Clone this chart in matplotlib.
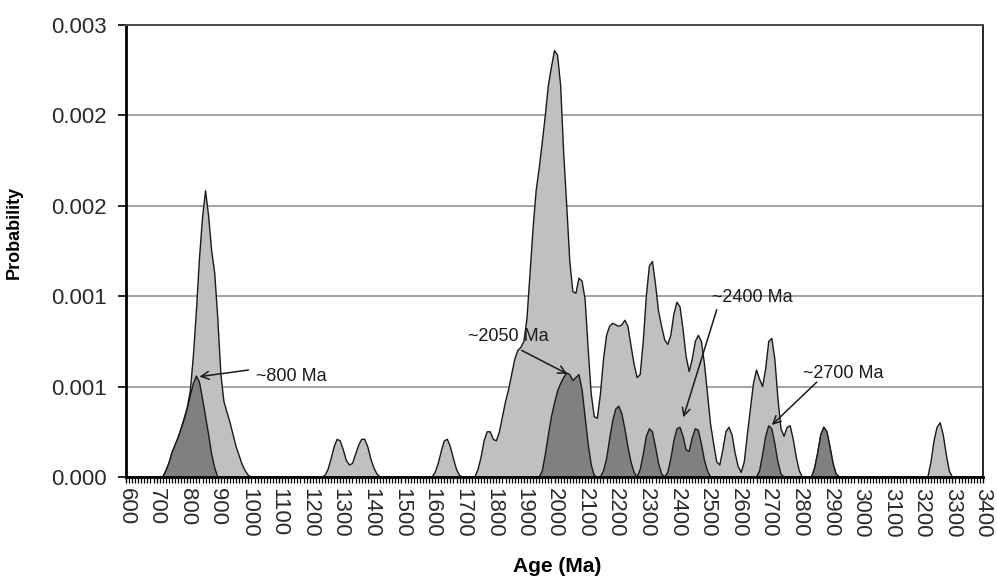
import matplotlib
matplotlib.use("Agg")
import matplotlib.pyplot as plt
from matplotlib.ticker import MultipleLocator, FixedLocator, FormatStrFormatter
import numpy as np

# ---- data (age in Ma, probability) : one row per 100 Ma, 10 Ma steps ----
ages = list(range(600, 3410, 10))

total_prob = [
    # 600-690
    0, 0, 0, 0, 0, 0, 0, 0, 0, 0,
    # 700-790
    0, 0, 0, 0.00004, 0.00009, 0.00016, 0.00021, 0.00026, 0.00032, 0.00039,
    # 800-890
    0.00046, 0.00057, 0.00080, 0.00110, 0.00145, 0.00172, 0.00190, 0.00173, 0.00150, 0.00135,
    # 900-990
    0.00105, 0.00068, 0.00050, 0.00043, 0.00036, 0.00028, 0.00020, 0.00014, 0.00008, 0.00004,
    # 1000-1090
    0.00001, 0, 0, 0, 0, 0, 0, 0, 0, 0,
    # 1100-1190
    0, 0, 0, 0, 0, 0, 0, 0, 0, 0,
    # 1200-1290
    0, 0, 0, 0, 0, 0.00001, 0.00005, 0.00012, 0.00020, 0.00025,
    # 1300-1390
    0.00024, 0.00018, 0.00011, 0.00008, 0.00009, 0.00015, 0.00021, 0.00025, 0.00025, 0.00020,
    # 1400-1490
    0.00012, 0.00006, 0.00002, 0, 0, 0, 0, 0, 0, 0,
    # 1500-1590
    0, 0, 0, 0, 0, 0, 0, 0, 0, 0,
    # 1600-1690
    0, 0.00003, 0.00009, 0.00017, 0.00024, 0.00025, 0.00020, 0.00012, 0.00005, 0.00001,
    # 1700-1790
    0, 0, 0, 0, 0, 0.00005, 0.00013, 0.00024, 0.00030, 0.00030,
    # 1800-1890
    0.00025, 0.00024, 0.00030, 0.00040, 0.00050, 0.00058, 0.00068, 0.00078, 0.00084, 0.00086,
    # 1900-1990
    0.00090, 0.00105, 0.00135, 0.00165, 0.00190, 0.00205, 0.00222, 0.00240, 0.00260, 0.00272,
    # 2000-2090
    0.00283, 0.00280, 0.00260, 0.00215, 0.00180, 0.00143, 0.00123, 0.00122, 0.00132, 0.00130,
    # 2100-2190
    0.00118, 0.00085, 0.00055, 0.00040, 0.00039, 0.00055, 0.00078, 0.00094, 0.00100, 0.00102,
    # 2200-2290
    0.00101, 0.00100, 0.00101, 0.00104, 0.00100, 0.00087, 0.00075, 0.00066, 0.00068, 0.00090,
    # 2300-2390
    0.00120, 0.00140, 0.00143, 0.00128, 0.00110, 0.00100, 0.00091, 0.00088, 0.00094, 0.00108,
    # 2400-2490
    0.00116, 0.00113, 0.00098, 0.00080, 0.00070, 0.00078, 0.00090, 0.00094, 0.00090, 0.00075,
    # 2500-2590
    0.00055, 0.00035, 0.00022, 0.00010, 0.00008, 0.00018, 0.00030, 0.00033, 0.00028, 0.00016,
    # 2600-2690
    0.00007, 0.00003, 0.00010, 0.00028, 0.00045, 0.00062, 0.00071, 0.00065, 0.00060, 0.00072,
    # 2700-2790
    0.00090, 0.00092, 0.00078, 0.00052, 0.00032, 0.00027, 0.00033, 0.00034, 0.00025, 0.00013,
    # 2800-2890
    0.00004, 0, 0, 0, 0, 0.00006, 0.00016, 0.00028, 0.00033, 0.00030,
    # 2900-2990
    0.00020, 0.00009, 0.00002, 0, 0, 0, 0, 0, 0, 0,
    # 3000-3090
    0, 0, 0, 0, 0, 0, 0, 0, 0, 0,
    # 3100-3190
    0, 0, 0, 0, 0, 0, 0, 0, 0, 0,
    # 3200-3290
    0, 0, 0, 0.00010, 0.00024, 0.00033, 0.00036, 0.00028, 0.00015, 0.00004,
    # 3300-3400
    0, 0, 0, 0, 0, 0, 0, 0, 0, 0, 0,
]

subset_prob = [
    # 600-690
    0, 0, 0, 0, 0, 0, 0, 0, 0, 0,
    # 700-790
    0, 0, 0, 0.00004, 0.00009, 0.00016, 0.00021, 0.00026, 0.00032, 0.00038,
    # 800-890
    0.00045, 0.00054, 0.00062, 0.00067, 0.00063, 0.00052, 0.00040, 0.00028, 0.00015, 0.00006,
    # 900-990
    0, 0, 0, 0, 0, 0, 0, 0, 0, 0,
    # 1000-1090
    0, 0, 0, 0, 0, 0, 0, 0, 0, 0,
    # 1100-1190
    0, 0, 0, 0, 0, 0, 0, 0, 0, 0,
    # 1200-1290
    0, 0, 0, 0, 0, 0, 0, 0, 0, 0,
    # 1300-1390
    0, 0, 0, 0, 0, 0, 0, 0, 0, 0,
    # 1400-1490
    0, 0, 0, 0, 0, 0, 0, 0, 0, 0,
    # 1500-1590
    0, 0, 0, 0, 0, 0, 0, 0, 0, 0,
    # 1600-1690
    0, 0, 0, 0, 0, 0, 0, 0, 0, 0,
    # 1700-1790
    0, 0, 0, 0, 0, 0, 0, 0, 0, 0,
    # 1800-1890
    0, 0, 0, 0, 0, 0, 0, 0, 0, 0,
    # 1900-1990
    0, 0, 0, 0, 0, 0, 0.00004, 0.00015, 0.00028, 0.00040,
    # 2000-2090
    0.00049, 0.00057, 0.00062, 0.00066, 0.00069, 0.00068, 0.00064, 0.00066, 0.00068, 0.00058,
    # 2100-2190
    0.00040, 0.00022, 0.00008, 0.00001, 0, 0, 0.00004, 0.00012, 0.00025, 0.00037,
    # 2200-2290
    0.00045, 0.00047, 0.00042, 0.00032, 0.00020, 0.00010, 0.00003, 0, 0.00005, 0.00015,
    # 2300-2390
    0.00027, 0.00032, 0.00030, 0.00020, 0.00009, 0.00002, 0, 0.00003, 0.00012, 0.00024,
    # 2400-2490
    0.00032, 0.00033, 0.00027, 0.00018, 0.00017, 0.00026, 0.00032, 0.00031, 0.00022, 0.00011,
    # 2500-2590
    0.00004, 0, 0, 0, 0, 0, 0, 0, 0, 0,
    # 2600-2690
    0, 0, 0, 0, 0, 0, 0, 0.00004, 0.00015, 0.00027,
    # 2700-2790
    0.00034, 0.00032, 0.00022, 0.00010, 0.00002, 0, 0, 0, 0, 0,
    # 2800-2890
    0, 0, 0, 0, 0, 0.00006, 0.00016, 0.00028, 0.00033, 0.00030,
    # 2900-2990
    0.00020, 0.00009, 0.00002, 0, 0, 0, 0, 0, 0, 0,
    # 3000-3090
    0, 0, 0, 0, 0, 0, 0, 0, 0, 0,
    # 3100-3190
    0, 0, 0, 0, 0, 0, 0, 0, 0, 0,
    # 3200-3290
    0, 0, 0, 0, 0, 0, 0, 0, 0, 0,
    # 3300-3400
    0, 0, 0, 0, 0, 0, 0, 0, 0, 0, 0,
]

y_ticks = [0.0, 0.0006, 0.0012, 0.0018, 0.0024, 0.003]
x_major = list(range(600, 3401, 100))

# annotation labels: (text, text position, arrow tail, arrow head)
annot_text = ["~800 Ma", "~2050 Ma", "~2400 Ma", "~2700 Ma"]
annot_text_xy = [(1025, 0.00067), (1718, 0.00093), (2514, 0.00119), (2813, 0.00069)]
annot_tail = [(1000, 0.00071), (1893, 0.00084), (2530, 0.00111), (2857, 0.00063)]
annot_head = [(840, 0.000666), (2042, 0.000684), (2421, 0.000396), (2710, 0.000345)]

# ---- figure ----
fig = plt.figure(figsize=(9.97, 5.78), dpi=100)
ax = fig.add_axes([126 / 997, 1 - 477 / 578, (983 - 126) / 997, (477 - 25) / 578])

x = np.array(ages, dtype=float)
ax.fill_between(x, total_prob, 0, facecolor="#c0c0c0", edgecolor="none", zorder=2)
ax.plot(x, total_prob, color="#1a1a1a", lw=1.0, zorder=3)
ax.fill_between(x, subset_prob, 0, facecolor="#808080", edgecolor="none", zorder=4)
ax.plot(x, subset_prob, color="#1a1a1a", lw=1.0, zorder=5)

ax.set_xlim(600, 3400)
ax.set_ylim(0, 0.003)

ax.yaxis.set_major_locator(FixedLocator(y_ticks))
ax.yaxis.set_major_formatter(FormatStrFormatter("%.3f"))
ax.xaxis.set_major_locator(FixedLocator(x_major))
ax.xaxis.set_minor_locator(MultipleLocator(10))

ax.grid(axis="y", color="#8a8a8a", lw=1.1, zorder=0)
ax.set_axisbelow(True)

for s in ["left", "bottom"]:
    ax.spines[s].set_linewidth(2.0)
    ax.spines[s].set_color("black")
ax.spines["top"].set_color("#4a4a4a")
ax.spines["top"].set_linewidth(1.4)
ax.spines["right"].set_color("black")
ax.spines["right"].set_linewidth(1.2)
for s in ax.spines.values():
    s.set_zorder(6)

font = "Liberation Sans"
ax.tick_params(axis="y", which="major", direction="out", length=5.5, width=1.2,
               pad=8.4, labelsize=16, labelcolor="#2a2a2a")
ax.tick_params(axis="x", which="major", direction="out", length=4.5, width=1.0,
               pad=3.5, labelsize=16, labelcolor="#2a2a2a")
ax.tick_params(axis="x", which="minor", direction="out", length=4.0, width=0.9)
for lab in ax.get_xticklabels():
    lab.set_rotation(-90)
    lab.set_ha("center")
    lab.set_va("top")
    lab.set_family(font)
for lab in ax.get_yticklabels():
    lab.set_family(font)

ax.set_ylabel("Probability", fontsize=13, fontweight="bold", family=font)
ax.yaxis.set_label_coords(-0.120, 0.54)
ax.set_xlabel("Age (Ma)", fontsize=15, fontweight="bold", family=font)
ax.xaxis.set_label_coords(0.503, -0.176)

for t, txy, tail, head in zip(annot_text, annot_text_xy, annot_tail, annot_head):
    ax.annotate("", xy=head, xytext=tail,
                arrowprops=dict(arrowstyle="->", color="#1a1a1a", lw=1.1,
                                shrinkA=0, shrinkB=0, mutation_scale=14),
                zorder=7)
    ax.text(txy[0], txy[1], t, fontsize=13, family=font, color="#1a1a1a",
            ha="left", va="center", zorder=8)

fig.savefig("out.png", dpi=100)
